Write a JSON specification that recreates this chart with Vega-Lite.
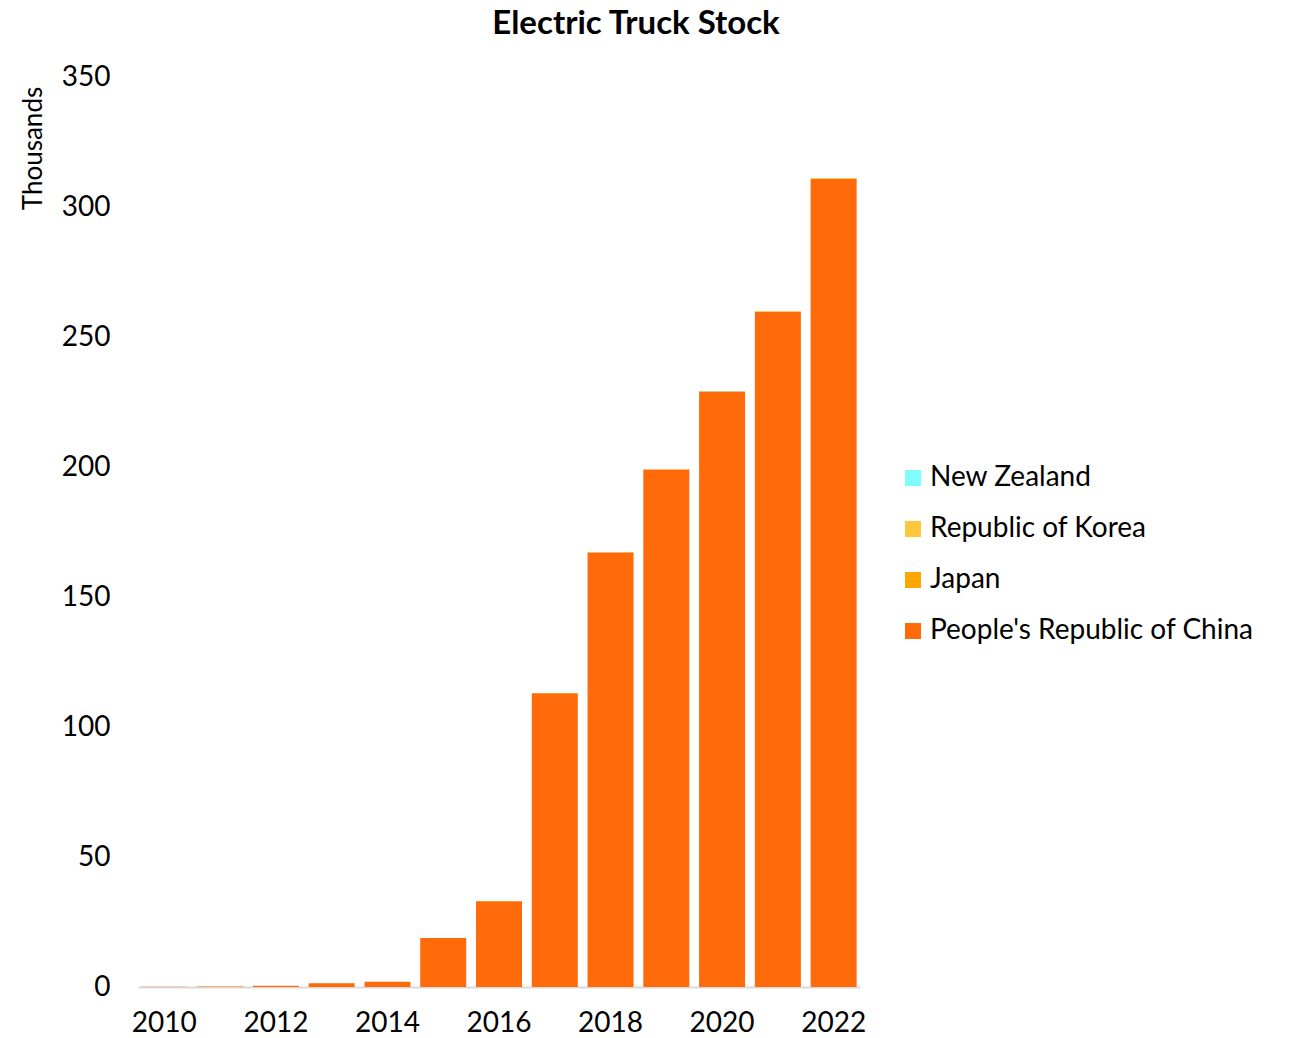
{
  "$schema": "https://vega.github.io/schema/vega-lite/v6.json",
  "autosize": {"type": "none"},
  "padding": {"left": 138, "top": 77, "right": 437, "bottom": 51},
  "width": 722,
  "height": 910,
  "background": "white",
  "title": {
    "text": "Electric Truck Stock",
    "font": "Lato",
    "fontSize": 33,
    "fontWeight": "bold",
    "color": "black",
    "anchor": "middle",
    "frame": "group",
    "dx": 137,
    "offset": 22
  },
  "config": {
    "view": {"stroke": null},
    "font": "Lato"
  },
  "data": {
    "values": [
      {"year": "2010", "country": "People's Republic of China", "value": 0.1},
      {"year": "2011", "country": "People's Republic of China", "value": 0.2},
      {"year": "2012", "country": "People's Republic of China", "value": 0.5},
      {"year": "2013", "country": "People's Republic of China", "value": 1.4},
      {"year": "2014", "country": "People's Republic of China", "value": 2.0},
      {"year": "2015", "country": "People's Republic of China", "value": 18.8},
      {"year": "2016", "country": "People's Republic of China", "value": 33.0},
      {"year": "2017", "country": "People's Republic of China", "value": 113.0},
      {"year": "2018", "country": "People's Republic of China", "value": 167.1},
      {"year": "2019", "country": "People's Republic of China", "value": 199.0},
      {"year": "2020", "country": "People's Republic of China", "value": 229.0},
      {"year": "2021", "country": "People's Republic of China", "value": 259.7},
      {"year": "2022", "country": "People's Republic of China", "value": 310.8},
      {"year": "2010", "country": "Japan", "value": 0},
      {"year": "2011", "country": "Japan", "value": 0},
      {"year": "2012", "country": "Japan", "value": 0},
      {"year": "2013", "country": "Japan", "value": 0},
      {"year": "2014", "country": "Japan", "value": 0},
      {"year": "2015", "country": "Japan", "value": 0.02},
      {"year": "2016", "country": "Japan", "value": 0.03},
      {"year": "2017", "country": "Japan", "value": 0.05},
      {"year": "2018", "country": "Japan", "value": 0.07},
      {"year": "2019", "country": "Japan", "value": 0.08},
      {"year": "2020", "country": "Japan", "value": 0.1},
      {"year": "2021", "country": "Japan", "value": 0.12},
      {"year": "2022", "country": "Japan", "value": 0.15},
      {"year": "2010", "country": "Republic of Korea", "value": 0},
      {"year": "2011", "country": "Republic of Korea", "value": 0},
      {"year": "2012", "country": "Republic of Korea", "value": 0},
      {"year": "2013", "country": "Republic of Korea", "value": 0},
      {"year": "2014", "country": "Republic of Korea", "value": 0},
      {"year": "2015", "country": "Republic of Korea", "value": 0},
      {"year": "2016", "country": "Republic of Korea", "value": 0},
      {"year": "2017", "country": "Republic of Korea", "value": 0.01},
      {"year": "2018", "country": "Republic of Korea", "value": 0.02},
      {"year": "2019", "country": "Republic of Korea", "value": 0.04},
      {"year": "2020", "country": "Republic of Korea", "value": 0.08},
      {"year": "2021", "country": "Republic of Korea", "value": 0.15},
      {"year": "2022", "country": "Republic of Korea", "value": 0.25},
      {"year": "2010", "country": "New Zealand", "value": 0},
      {"year": "2011", "country": "New Zealand", "value": 0},
      {"year": "2012", "country": "New Zealand", "value": 0},
      {"year": "2013", "country": "New Zealand", "value": 0},
      {"year": "2014", "country": "New Zealand", "value": 0},
      {"year": "2015", "country": "New Zealand", "value": 0},
      {"year": "2016", "country": "New Zealand", "value": 0},
      {"year": "2017", "country": "New Zealand", "value": 0},
      {"year": "2018", "country": "New Zealand", "value": 0},
      {"year": "2019", "country": "New Zealand", "value": 0.01},
      {"year": "2020", "country": "New Zealand", "value": 0.01},
      {"year": "2021", "country": "New Zealand", "value": 0.02},
      {"year": "2022", "country": "New Zealand", "value": 0.05}
    ]
  },
  "transform": [
    {"calculate": "indexof(['People\\'s Republic of China','Japan','Republic of Korea','New Zealand'], datum.country)", "as": "stackOrder"}
  ],
  "mark": {"type": "bar"},
  "encoding": {
    "x": {
      "field": "year",
      "type": "ordinal",
      "scale": {"paddingInner": 0.175, "paddingOuter": 0.06},
      "axis": {
        "title": null,
        "labelAngle": 0,
        "labelExpr": "parseInt(datum.value) % 2 === 0 ? datum.value : ''",
        "labelFontSize": 28,
        "labelColor": "black",
        "labelPadding": 22,
        "ticks": false,
        "domainColor": "#d9d9d9",
        "domainWidth": 2
      }
    },
    "y": {
      "field": "value",
      "type": "quantitative",
      "stack": "zero",
      "scale": {"domain": [0, 350], "nice": false},
      "axis": {
        "title": "Thousands",
        "titleFontSize": 26,
        "titleFontWeight": "normal",
        "titleColor": "black",
        "titleAngle": -90,
        "titleX": -105,
        "titleY": 71,
        "titleAlign": "center",
        "titleBaseline": "middle",
        "values": [0, 50, 100, 150, 200, 250, 300, 350],
        "labelFontSize": 28,
        "labelColor": "black",
        "labelPadding": 28,
        "ticks": false,
        "domain": false,
        "grid": false
      }
    },
    "color": {
      "field": "country",
      "type": "nominal",
      "scale": {
        "domain": ["New Zealand", "Republic of Korea", "Japan", "People's Republic of China"],
        "range": ["#7ffcfc", "#ffc83c", "#ffa500", "#ff6a0a"]
      },
      "legend": {
        "title": null,
        "orient": "none",
        "legendX": 761,
        "legendY": 387,
        "symbolType": "square",
        "symbolSize": 256,
        "symbolStrokeWidth": 0,
        "labelFontSize": 28,
        "labelColor": "black",
        "labelOffset": 3,
        "rowPadding": 23,
        "labelLimit": 500
      }
    },
    "order": {"field": "stackOrder", "type": "quantitative"}
  }
}
